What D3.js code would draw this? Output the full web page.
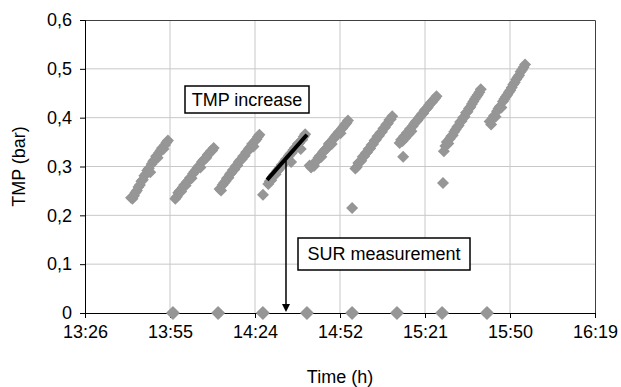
<!DOCTYPE html>
<html>
<head>
<meta charset="utf-8">
<script src="https://cdn.jsdelivr.net/npm/d3@7"></script>
<style>
  body { margin: 0; background: #fff; }
  svg { font-family: "Liberation Sans", Arial, sans-serif; }
</style>
</head>
<body>
<div id="chart"></div>
<script>
// TMP readings, one array per filtration cycle [time, bar]
const cycle1 = [["13:42:00",0.236],["13:42:30",0.234],["13:43:00",0.240],["13:43:30",0.247],["13:44:00",0.251],["13:44:30",0.258],["13:45:00",0.262],["13:45:30",0.270],["13:46:00",0.273],["13:46:30",0.281],["13:47:00",0.284],["13:47:30",0.292],["13:48:00",0.296],["13:48:30",0.288],["13:49:00",0.305],["13:49:30",0.311],["13:50:00",0.314],["13:50:30",0.321],["13:51:00",0.318],["13:51:30",0.328],["13:52:00",0.333],["13:52:30",0.338],["13:53:00",0.336],["13:53:30",0.344],["13:54:00",0.349],["13:54:30",0.353]];
const cycle2 = [["13:57:00",0.234],["13:57:30",0.238],["13:58:00",0.246],["13:58:30",0.250],["13:59:00",0.249],["13:59:30",0.257],["14:00:00",0.262],["14:00:30",0.261],["14:01:00",0.269],["14:01:30",0.272],["14:02:00",0.277],["14:02:30",0.276],["14:03:00",0.285],["14:03:30",0.289],["14:04:00",0.293],["14:04:30",0.297],["14:05:00",0.301],["14:05:30",0.298],["14:06:00",0.309],["14:06:30",0.313],["14:07:00",0.316],["14:07:30",0.318],["14:08:00",0.324],["14:08:30",0.327],["14:09:00",0.331],["14:09:30",0.333],["14:10:00",0.338]];
const cycle3 = [["14:12:00",0.254],["14:12:30",0.251],["14:13:00",0.262],["14:13:30",0.266],["14:14:00",0.270],["14:14:30",0.276],["14:15:00",0.277],["14:15:30",0.284],["14:16:00",0.287],["14:16:30",0.293],["14:17:00",0.294],["14:17:30",0.301],["14:18:00",0.302],["14:18:30",0.309],["14:19:00",0.313],["14:19:30",0.315],["14:20:00",0.321],["14:20:30",0.322],["14:21:00",0.329],["14:21:30",0.331],["14:22:00",0.337],["14:22:30",0.340],["14:23:00",0.346],["14:23:30",0.341],["14:24:00",0.352],["14:24:30",0.356],["14:25:00",0.361],["14:25:30",0.365]];
const cycle4 = [["14:26:42",0.242],["14:28:30",0.264],["14:29:00",0.270],["14:29:30",0.272],["14:30:00",0.279],["14:30:30",0.283],["14:31:00",0.284],["14:31:30",0.291],["14:32:00",0.294],["14:32:30",0.298],["14:33:00",0.303],["14:33:30",0.304],["14:34:00",0.310],["14:34:30",0.315],["14:35:00",0.316],["14:35:30",0.322],["14:36:00",0.326],["14:36:15",0.309],["14:36:30",0.328],["14:37:00",0.334],["14:37:30",0.338],["14:38:00",0.340],["14:38:30",0.346],["14:39:00",0.348],["14:39:30",0.336],["14:40:00",0.355],["14:40:30",0.361],["14:41:00",0.366]];
const cycle5 = [["14:42:30",0.302],["14:43:00",0.298],["14:43:30",0.303],["14:44:00",0.301],["14:44:30",0.309],["14:45:00",0.313],["14:45:30",0.318],["14:46:00",0.322],["14:46:30",0.320],["14:47:00",0.329],["14:47:30",0.333],["14:48:00",0.336],["14:48:30",0.338],["14:49:00",0.346],["14:49:30",0.349],["14:50:00",0.346],["14:50:30",0.356],["14:51:00",0.360],["14:51:30",0.364],["14:52:00",0.367],["14:52:30",0.371],["14:53:00",0.368],["14:53:30",0.378],["14:54:00",0.382],["14:54:30",0.386],["14:55:00",0.389],["14:55:30",0.394]];
const cycle6 = [["14:56:54",0.215],["14:58:00",0.296],["14:58:30",0.299],["14:59:00",0.307],["14:59:30",0.309],["15:00:00",0.312],["15:00:30",0.320],["15:01:00",0.321],["15:01:30",0.327],["15:02:00",0.329],["15:02:30",0.336],["15:03:00",0.337],["15:03:30",0.344],["15:04:00",0.346],["15:04:30",0.353],["15:05:00",0.355],["15:05:30",0.362],["15:06:00",0.363],["15:06:30",0.369],["15:07:00",0.371],["15:07:30",0.378],["15:08:00",0.380],["15:08:30",0.386],["15:09:00",0.388],["15:09:30",0.395],["15:10:00",0.397],["15:10:30",0.403]];
const cycle7 = [["15:13:00",0.348],["15:13:30",0.355],["15:14:00",0.352],["15:14:12",0.320],["15:14:30",0.362],["15:15:00",0.359],["15:15:30",0.369],["15:16:00",0.366],["15:16:30",0.377],["15:17:00",0.372],["15:17:30",0.383],["15:18:00",0.388],["15:18:30",0.392],["15:19:00",0.394],["15:19:30",0.399],["15:20:00",0.403],["15:20:30",0.407],["15:21:00",0.409],["15:21:30",0.415],["15:22:00",0.418],["15:22:30",0.421],["15:23:00",0.426],["15:23:30",0.430],["15:24:00",0.432],["15:24:30",0.436],["15:25:00",0.440],["15:25:30",0.444]];
const cycle8 = [["15:27:42",0.266],["15:28:00",0.331],["15:28:30",0.342],["15:29:00",0.350],["15:29:30",0.347],["15:30:00",0.357],["15:30:30",0.362],["15:31:00",0.364],["15:31:30",0.371],["15:32:00",0.376],["15:32:30",0.381],["15:33:00",0.384],["15:33:30",0.391],["15:34:00",0.393],["15:34:30",0.400],["15:35:00",0.402],["15:35:30",0.410],["15:36:00",0.412],["15:36:30",0.419],["15:37:00",0.422],["15:37:30",0.428],["15:38:00",0.433],["15:38:30",0.438],["15:39:00",0.443],["15:39:30",0.447],["15:40:00",0.452],["15:40:30",0.458]];
const cycle9 = [["15:43:30",0.392],["15:44:00",0.386],["15:44:30",0.399],["15:45:00",0.404],["15:45:30",0.402],["15:46:00",0.413],["15:46:30",0.419],["15:47:00",0.423],["15:47:30",0.421],["15:48:00",0.433],["15:48:30",0.438],["15:49:00",0.443],["15:49:30",0.447],["15:50:00",0.452],["15:50:30",0.456],["15:51:00",0.462],["15:51:30",0.468],["15:52:00",0.472],["15:52:30",0.478],["15:53:00",0.483],["15:53:30",0.487],["15:54:00",0.494],["15:54:30",0.498],["15:55:00",0.503],["15:55:30",0.509]];

// SUR measurements: TMP drops to 0
const surTimes = ["13:56:12","14:11:30","14:26:40","14:41:36","14:56:54","15:12:06","15:27:24","15:42:36"];

const xTicks = ["13:26:24","13:55:12","14:24:00","14:52:48","15:21:36","15:50:24","16:19:12"];
const yTicks = [0, 0.1, 0.2, 0.3, 0.4, 0.5, 0.6];

// annotation anchors (time, bar)
const increaseLine = [["14:28:06",0.2725],["14:41:36",0.365]];
const surArrow = ["14:34:30", 0.312];

const width = 621, height = 387;
const margin = {top: 20, right: 26, bottom: 74, left: 85};
const w = width - margin.left - margin.right;
const h = height - margin.top - margin.bottom;

const parse = d3.timeParse('%H:%M:%S');
const comma = d3.formatLocale({decimal: ',', thousands: '.', grouping: [3], currency: ['', '']}).format('.1f');

const x = d3.scaleTime()
  .domain([parse(xTicks[0]), parse(xTicks[xTicks.length - 1])])
  .range([0, w]);
const y = d3.scaleLinear().domain([0, 0.6]).range([h, 0]);

const svg = d3.select('#chart').append('svg')
  .attr('width', width)
  .attr('height', height);
const g = svg.append('g')
  .attr('transform', 'translate(' + margin.left + ',' + margin.top + ')');

// grid
g.append('g').selectAll('line').data(yTicks.slice(1, -1)).join('line')
  .attr('x1', 0).attr('x2', w)
  .attr('y1', d => y(d)).attr('y2', d => y(d))
  .attr('stroke', '#c8c8c8');
g.append('g').selectAll('line').data(xTicks.slice(1, -1)).join('line')
  .attr('x1', d => x(parse(d))).attr('x2', d => x(parse(d)))
  .attr('y1', 0).attr('y2', h)
  .attr('stroke', '#c8c8c8');

// plot border top/right
g.append('path')
  .attr('d', 'M0,0.5H' + (w + 0.5) + 'V' + h)
  .attr('fill', 'none')
  .attr('stroke', '#404040');

const xAxis = g.append('g')
  .attr('transform', 'translate(0,' + h + ')')
  .call(d3.axisBottom(x).tickValues(xTicks.map(parse)).tickFormat(d3.timeFormat('%H:%M')).tickSize(5).tickPadding(4));
const yAxis = g.append('g')
  .call(d3.axisLeft(y).tickValues(yTicks).tickFormat(d => d === 0 ? '0' : comma(d)).tickSize(5).tickPadding(8));

[xAxis, yAxis].forEach(a => {
  a.select('.domain').attr('stroke', '#000');
  a.selectAll('.tick line').attr('stroke', '#000');
  a.selectAll('text').attr('font-size', 18).attr('fill', '#000').attr('font-family', null);
});
xAxis.selectAll('text').attr('dy', '0.9em');

// markers
const diamond = 'M0,-6L6,0L0,6L-6,0Z';
const tmp = [cycle1, cycle2, cycle3, cycle4, cycle5, cycle6, cycle7, cycle8, cycle9].flat();
g.append('g').selectAll('path').data(tmp).join('path')
  .attr('d', diamond)
  .attr('transform', d => 'translate(' + x(parse(d[0])) + ',' + y(d[1]) + ')')
  .attr('fill', '#969696');
g.append('g').selectAll('path').data(surTimes).join('path')
  .attr('d', diamond)
  .attr('transform', d => 'translate(' + x(parse(d)) + ',' + y(0) + ')')
  .attr('fill', '#969696')
  .attr('stroke', '#969696')
  .attr('stroke-width', 1.5)
  .attr('stroke-linejoin', 'round');

// TMP increase line
g.append('line')
  .attr('x1', x(parse(increaseLine[0][0]))).attr('y1', y(increaseLine[0][1]))
  .attr('x2', x(parse(increaseLine[1][0]))).attr('y2', y(increaseLine[1][1]))
  .attr('stroke', '#000').attr('stroke-width', 4);

// SUR arrow
const ax = x(parse(surArrow[0]));
g.append('line')
  .attr('x1', ax).attr('x2', ax)
  .attr('y1', y(surArrow[1])).attr('y2', y(0) - 8)
  .attr('stroke', '#000').attr('stroke-width', 1.5);
g.append('path')
  .attr('d', 'M' + (ax - 4) + ',' + (y(0) - 9) + 'L' + (ax + 4) + ',' + (y(0) - 9) + 'L' + ax + ',' + (y(0) - 1) + 'Z')
  .attr('fill', '#000');

// text boxes
function box(x0, y0, bw, bh, label) {
  svg.append('rect')
    .attr('x', x0).attr('y', y0).attr('width', bw).attr('height', bh)
    .attr('fill', '#fff').attr('stroke', '#000').attr('stroke-width', 1.5);
  svg.append('text')
    .attr('x', x0 + bw / 2).attr('y', y0 + bh / 2)
    .attr('dy', '0.35em')
    .attr('text-anchor', 'middle')
    .attr('font-size', 18)
    .text(label);
}
box(185, 86, 124, 27, 'TMP increase');
box(298, 238, 172, 32, 'SUR measurement');

// axis titles
svg.append('text')
  .attr('x', margin.left + w / 2).attr('y', 383)
  .attr('text-anchor', 'middle')
  .attr('font-size', 18)
  .text('Time (h)');
svg.append('text')
  .attr('transform', 'translate(25,' + (margin.top + h / 2) + ') rotate(-90)')
  .attr('text-anchor', 'middle')
  .attr('font-size', 18)
  .text('TMP (bar)');
</script>
</body>
</html>
